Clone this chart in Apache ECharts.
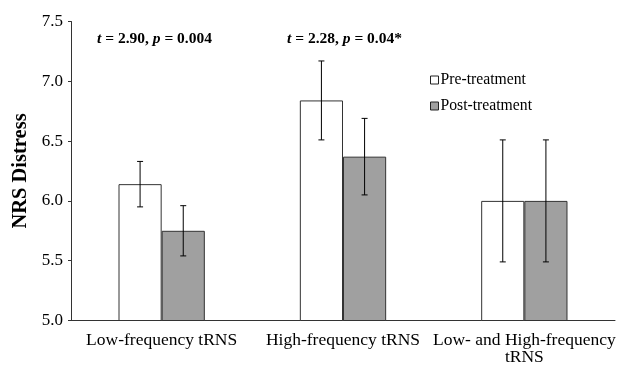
<!DOCTYPE html>
<html>
<head>
<meta charset="utf-8">
<script src="https://cdn.jsdelivr.net/npm/echarts@6/dist/echarts.min.js"></script>
<style>
    html, body { margin: 0; padding: 0; background: #fff; }
    #chart { width: 630px; height: 366px; }
</style>
</head>
<body>
<div id="chart"></div>
<script>
// data
var categories = ['Low-frequency tRNS', 'High-frequency tRNS', 'Low- and High-frequency\ntRNS'];
var preMean = [6.14, 6.84, 6.00];
var preLow = [5.95, 6.51, 5.49];
var preHigh = [6.33, 7.17, 6.51];
var postMean = [5.75, 6.37, 6.00];
var postLow = [5.54, 6.05, 5.49];
var postHigh = [5.96, 6.69, 6.51];
var yTicks = [5.0, 5.5, 6.0, 6.5, 7.0, 7.5];

var serif = '"Liberation Serif", "DejaVu Serif", serif';

// error bar drawn at bar center: side = -1 (left bar) or +1 (right bar)
function errorSeries(low, high, side) {
    var data = categories.map(function (c, i) { return [i, low[i], high[i]]; });
    return {
        type: 'custom',
        z: 10,
        silent: true,
        renderItem: function (params, api) {
            var bw = api.size([1, 0])[0] * 0.238;
            var x = api.coord([api.value(0), 0])[0] + side * bw / 2;
            var yLo = api.coord([api.value(0), api.value(1)])[1];
            var yHi = api.coord([api.value(0), api.value(2)])[1];
            var cap = 3;
            var st = { stroke: '#000', lineWidth: 1 };
            return {
                type: 'group',
                children: [
                    { type: 'line', shape: { x1: x, y1: yLo, x2: x, y2: yHi }, style: st },
                    { type: 'line', shape: { x1: x - cap, y1: yLo, x2: x + cap, y2: yLo }, style: st },
                    { type: 'line', shape: { x1: x - cap, y1: yHi, x2: x + cap, y2: yHi }, style: st }
                ]
            };
        },
        data: data
    };
}

var myChart = echarts.init(document.getElementById('chart'));

var richItalic = { i: { fontStyle: 'italic', fontWeight: 'bold', fontSize: 15.5, fontFamily: serif } };

var option = {
    animation: false,
    textStyle: { fontFamily: serif },
    grid: { left: 71, right: 15, top: 21.5, bottom: 43 },
    legend: {
        orient: 'vertical',
        left: 425,
        top: 67,
        icon: 'rect',
        itemWidth: 8,
        itemHeight: 8,
        itemGap: 10,
        itemStyle: { borderColor: '#222', borderWidth: 1 },
        textStyle: { fontFamily: serif, fontSize: 15.7, color: '#000', padding: [0, 0, 0, -3] },
        data: ['Pre-treatment', 'Post-treatment']
    },
    xAxis: {
        type: 'category',
        data: categories,
        axisLine: { lineStyle: { color: '#333', width: 1 } },
        axisTick: { show: false },
        axisLabel: { color: '#000', fontSize: 17.5, fontFamily: serif, margin: 11, lineHeight: 17, interval: 0 }
    },
    yAxis: {
        type: 'value',
        min: 5,
        max: 7.5,
        interval: 0.5,
        name: 'NRS Distress',
        nameLocation: 'middle',
        nameGap: 40,
        nameTextStyle: { fontFamily: serif, fontSize: 20.5, fontWeight: 'bold', color: '#000' },
        axisLine: { show: true, lineStyle: { color: '#333', width: 1 } },
        axisTick: { show: true, length: 3, inside: false, lineStyle: { color: '#333' } },
        splitLine: { show: false },
        axisLabel: {
            color: '#000', fontSize: 17, fontFamily: serif, margin: 8,
            formatter: function (v) { return yTicks.indexOf(v) >= 0 ? v.toFixed(1) : ''; }
        }
    },
    graphic: [
        {
            type: 'text', left: 97, top: 31,
            style: {
                text: '{i|t} = 2.90, {i|p} = 0.004',
                font: 'bold 15.5px ' + serif, fill: '#000',
                rich: richItalic
            }
        },
        {
            type: 'text', left: 287, top: 31,
            style: {
                text: '{i|t} = 2.28, {i|p} = 0.04*',
                font: 'bold 15.5px ' + serif, fill: '#000',
                rich: richItalic
            }
        }
    ],
    series: [
        {
            name: 'Pre-treatment',
            type: 'bar',
            barWidth: '23.8%',
            barGap: '0%',
            itemStyle: { color: '#fff', borderColor: '#333', borderWidth: 1 },
            data: preMean
        },
        {
            name: 'Post-treatment',
            type: 'bar',
            barWidth: '23.8%',
            itemStyle: { color: '#a0a0a0', borderColor: '#333', borderWidth: 1 },
            data: postMean
        },
        errorSeries(preLow, preHigh, -1),
        errorSeries(postLow, postHigh, 1)
    ]
};

myChart.setOption(option);
window.addEventListener('resize', function () {
    myChart.resize();
});
</script>
</body>
</html>
